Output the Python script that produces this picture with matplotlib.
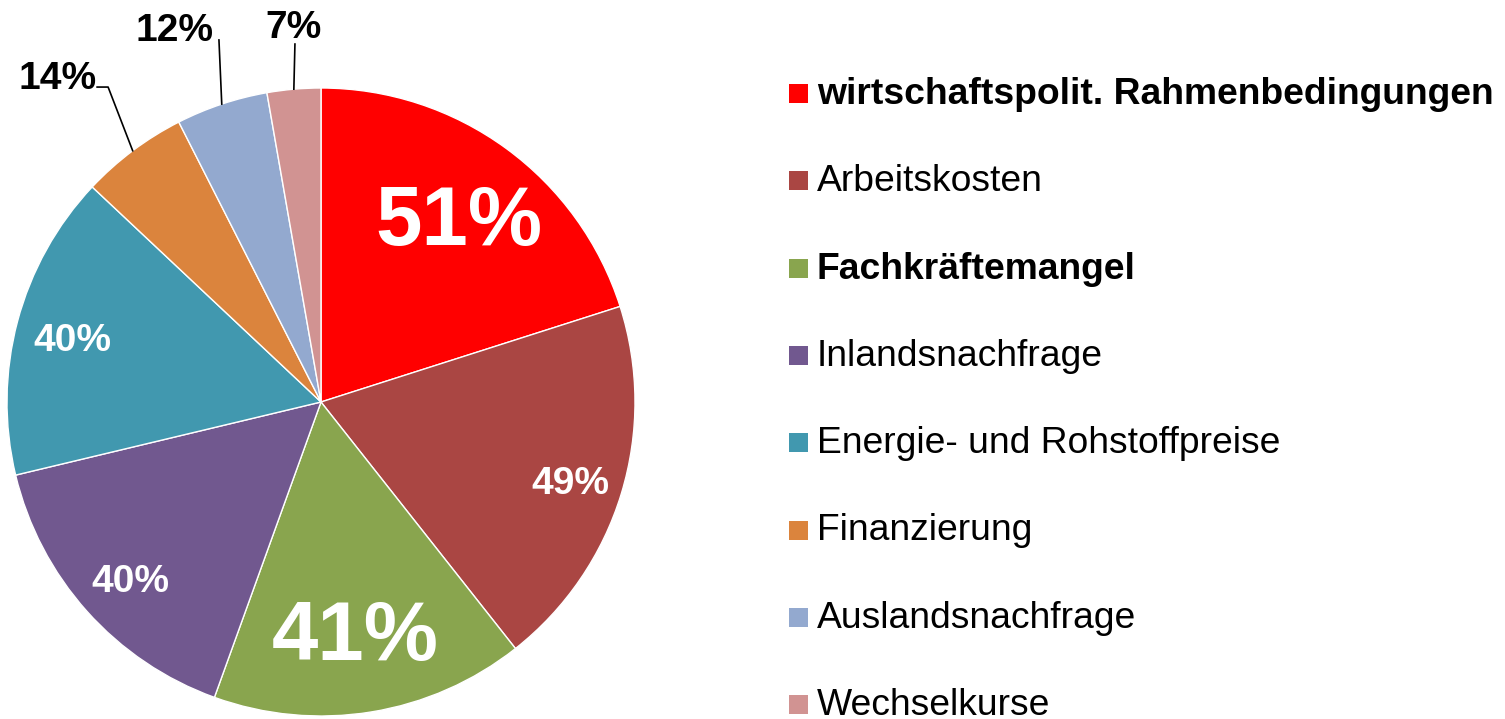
import numpy as np
import matplotlib.pyplot as plt
from matplotlib.patches import Rectangle

plt.rcParams['font.family'] = ['Liberation Sans', 'DejaVu Sans']

# Daten
categories = ['wirtschaftspolit. Rahmenbedingungen', 'Arbeitskosten', 'Fachkräftemangel',
              'Inlandsnachfrage', 'Energie- und Rohstoffpreise', 'Finanzierung',
              'Auslandsnachfrage', 'Wechselkurse']
values = [51, 49, 41, 40, 40, 14, 12, 7]
bold_legend = [True, False, True, False, False, False, False, False]

colors = ['#FF0000', '#AA4643', '#89A54E', '#71588F', '#4198AF', '#DB843D', '#93A9CF', '#D19392']

# Beschriftungen innen: (Abstand vom Zentrum, Schriftgröße, x-Versatz)
inner_style = {0: (0.73, 60, 0.01), 1: (0.82, 28, 0.01), 2: (0.74, 60, -0.01),
               3: (0.83, 28, 0.01), 4: (0.83, 28, 0.01)}
# Beschriftungen außen: Textposition, Knickpunkte der Linie
outer_style = {5: ((-0.84, 1.03), [(-0.678, 1.003), (-0.713, 1.003)]),
               6: ((-0.468, 1.18), [(-0.325, 1.153)]),
               7: ((-0.089, 1.19), [(-0.083, 1.14)])}

fig = plt.figure(figsize=(15.05, 7.19), dpi=100)
ax = fig.add_axes([7 / 1505, 3 / 719, 628 / 1505, 628 / 719])
wedges, _ = ax.pie(values, colors=colors, startangle=90, counterclock=False,
                   wedgeprops=dict(edgecolor='white', linewidth=1))
ax.set_xlim(-1, 1)
ax.set_ylim(-1, 1)
ax.set_aspect('equal')
ax.axis('off')

for i, w in enumerate(wedges):
    mid = np.deg2rad((w.theta1 + w.theta2) / 2)
    label = f'{values[i]}%'
    if i in inner_style:
        r, fs, dx = inner_style[i]
        ax.text(r * np.cos(mid) + dx, r * np.sin(mid) - 0.02, label, color='white',
                fontsize=fs, fontweight='bold', ha='center', va='center')
    else:
        (tx, ty), pts = outer_style[i]
        ex, ey = np.cos(mid), np.sin(mid)
        xs = [ex] + [p[0] for p in pts]
        ys = [ey] + [p[1] for p in pts]
        ax.plot(xs, ys, color='black', linewidth=1.2, clip_on=False)
        ax.text(tx, ty, label, color='black', fontsize=28, fontweight='bold',
                ha='center', va='center', clip_on=False)

# Legende
for i, cat in enumerate(categories):
    y_px = 93.5 + i * 87.3
    yf = 1 - y_px / 719
    fig.patches.append(Rectangle((789 / 1505, yf - 9.5 / 719), 19 / 1505, 19 / 719,
                                 transform=fig.transFigure, facecolor=colors[i],
                                 edgecolor='none'))
    fig.text(817 / 1505, yf - 1 / 719, cat, fontsize=26.8, va='center', ha='left',
             fontweight='bold' if bold_legend[i] else 'normal')

fig.savefig('out.png', dpi=100)
